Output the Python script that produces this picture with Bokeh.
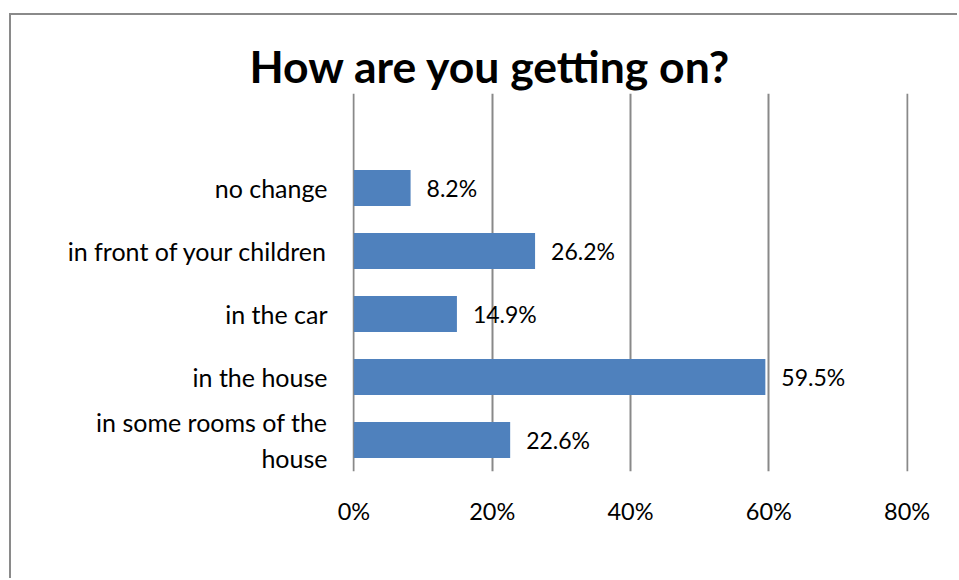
from bokeh.plotting import figure
from bokeh.models import FactorRange, Range1d, FixedTicker, Title, ColumnDataSource
from bokeh.core.properties import value
from bokeh.embed import file_html
from bokeh.resources import INLINE

# ---- data ----
categories = ["in some rooms of the\nhouse", "in the house", "in the car",
              "in front of your children", "no change"]
values = [22.6, 59.5, 14.9, 26.2, 8.2]
value_labels = ["22.6%", "59.5%", "14.9%", "26.2%", "8.2%"]
x_ticks = [0, 20, 40, 60, 80]
x_tick_labels = ["0%", "20%", "40%", "60%", "80%"]
title_text = "How are you getting on?"

FONT = "Lato"

factors = categories + [" "]
src = ColumnDataSource(dict(cat=categories, val=values, lab=value_labels))

p = figure(width=948, height=565, output_backend="svg", toolbar_location=None,
           y_range=FactorRange(factors=factors), x_range=Range1d(-0.2, 80.2),
           min_border_left=341, min_border_right=51, min_border_top=78,
           min_border_bottom=109,
           margin=(13, 0, 0, 9),
           styles={"border-top": "2px solid #8a8a8a",
                   "border-left": "2px solid #8a8a8a"})
p.outline_line_color = None
p.background_fill_color = "white"
p.border_fill_color = "white"

p.hbar(y="cat", right="val", left=0, height=0.57, source=src,
       fill_color="#4F81BD", line_color=None)
p.text(x="val", y="cat", text="lab", source=src, x_offset=16,
       text_baseline="middle", text_align="left", text_font_size="23px",
       text_font=value(FONT), text_color="black")

t = Title(text=title_text, align="left", offset=-103, text_font=FONT,
          text_font_size="44.5px", text_font_style="bold", text_color="black",
          standoff=4)
p.add_layout(t, "above")

# x axis
p.xaxis.ticker = FixedTicker(ticks=x_ticks)
p.xaxis.major_label_overrides = {t_: l for t_, l in zip(x_ticks, x_tick_labels)}
p.xaxis.axis_line_color = None
p.xaxis.major_tick_line_color = None
p.xaxis.minor_tick_line_color = None
p.xaxis.major_tick_out = 0
p.xaxis.minor_tick_out = 0
p.xaxis.major_label_standoff = 25
p.xaxis.major_label_text_font = FONT
p.xaxis.major_label_text_font_size = "23.5px"
p.xaxis.major_label_text_color = "black"

# y axis
p.yaxis.axis_line_color = None
p.yaxis.major_tick_line_color = None
p.yaxis.minor_tick_line_color = None
p.yaxis.major_tick_out = 0
p.yaxis.minor_tick_out = 0
p.yaxis.major_label_standoff = 25
p.yaxis.major_label_text_font = FONT
p.yaxis.major_label_text_font_size = "25px"
p.yaxis.major_label_text_color = "black"

p.xgrid.grid_line_color = "#898989"
p.xgrid.grid_line_width = 2
p.ygrid.visible = False

open("out.html", "w").write(file_html(p, INLINE))
